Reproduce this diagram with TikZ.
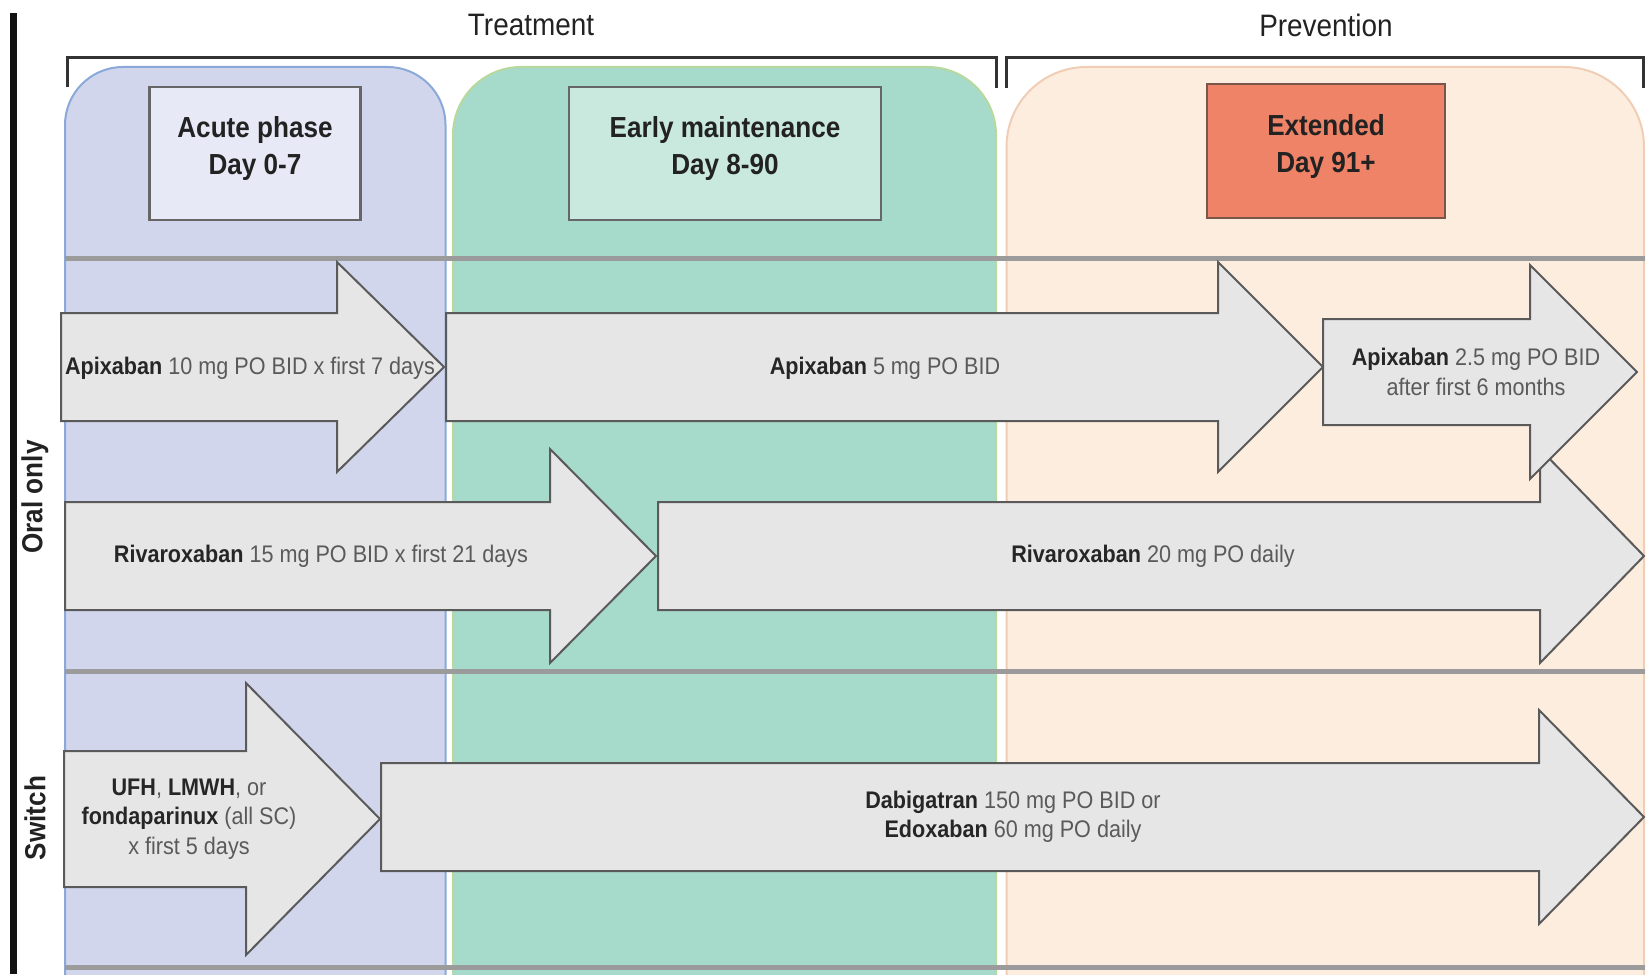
\documentclass[tikz,border=0pt]{standalone}
\usepackage{fontspec}
\setmainfont{Liberation Sans}[FakeStretch=0.9]
\definecolor{bluecol}{HTML}{D1D6EC}
\definecolor{blueedge}{HTML}{8AA9D8}
\definecolor{greencol}{HTML}{A6DACB}
\definecolor{greenedge}{HTML}{B8D99E}
\definecolor{peachcol}{HTML}{FDEDDE}
\definecolor{peachedge}{HTML}{F0CDB5}
\definecolor{acutefill}{HTML}{E7E9F6}
\definecolor{earlyfill}{HTML}{C9E9DE}
\definecolor{extfill}{HTML}{EE8367}
\definecolor{extedge}{HTML}{7A564A}
\definecolor{arrowfill}{HTML}{E6E6E6}
\definecolor{arrowedge}{HTML}{5A5A5A}
\definecolor{sepline}{HTML}{9B9B9B}
\definecolor{boldtext}{HTML}{262626}
\definecolor{regtext}{HTML}{5A5A5A}
\definecolor{headtext}{HTML}{222222}
\newcommand{\smallfnt}{\fontsize{24}{29.5}\selectfont}
\newcommand{\headfnt}{\fontsize{29}{37}\selectfont\bfseries}
\newcommand{\drug}[1]{{\bfseries\color{boldtext}#1}}
\newcommand{\fatarrow}[6]{\filldraw[arrowbox] (#1,{#4-#5}) -- (#2,{#4-#5}) -- (#2,{#4-#6}) -- (#3,#4) -- (#2,{#4+#6}) -- (#2,{#4+#5}) -- (#1,{#4+#5}) -- cycle;}
\begin{document}
\begin{tikzpicture}[x=1pt,y=-1pt,
  arrowbox/.style={fill=arrowfill,draw=arrowedge,line width=2pt,line join=miter},
  armtext/.style={font=\smallfnt,text=regtext,align=center,inner sep=0pt},
  phasebox/.style={draw=black!60,line width=2.5pt,inner sep=0pt},
  phasetext/.style={font=\headfnt,text=headtext,align=center,inner sep=0pt},
  grouptext/.style={font=\fontsize{31}{36}\selectfont,text=headtext,inner sep=0pt},
  rowtext/.style={font=\headfnt,text=headtext,inner sep=0pt,rotate=90},
  bracket/.style={draw=black!80,line width=3pt},
  sep/.style={draw=sepline,line width=5pt}]
\useasboundingbox (0,0) rectangle (1648,974);
% left bar
\fill[black!93] (10,13) rectangle (17,974);
% group labels and brackets
\node[grouptext] (treat) at (531,25) {Treatment};
\node[grouptext] (prev) at (1326,25) {Prevention};
\draw[bracket] (67,87) -- (67,58) -- (996,58) -- (996,88);
\draw[bracket] (1006.5,88) -- (1006.5,58) -- (1643,58) -- (1643,88);
% columns
\fill[bluecol,rounded corners=58pt] (65,976) -- (65,67) -- (445.5,67) -- (445.5,976);
\draw[blueedge,line width=2pt,rounded corners=58pt] (65,976) -- (65,67) -- (445.5,67) -- (445.5,976);
\fill[greencol,rounded corners=68pt] (453,976) -- (453,67) -- (996,67) -- (996,976);
\draw[greenedge,line width=2pt,rounded corners=68pt] (453,976) -- (453,67) -- (996,67) -- (996,976);
\fill[peachcol,rounded corners=80pt] (1006.5,976) -- (1006.5,67) -- (1644,67) -- (1644,976);
\draw[peachedge,line width=2pt,rounded corners=80pt] (1006.5,976) -- (1006.5,67) -- (1644,67) -- (1644,976);
% phase boxes
\node[phasebox,fill=acutefill,minimum width=211pt,minimum height=133pt] (acutebox) at (255,153.5) {};
\node[phasetext] (acute) at (255,149) {Acute phase\\Day 0-7};
\node[phasebox,fill=earlyfill,minimum width=312pt,minimum height=133pt] (earlybox) at (725,153.5) {};
\node[phasetext] (early) at (725,149) {Early maintenance\\Day 8-90};
\node[phasebox,fill=extfill,draw=extedge,minimum width=238pt,minimum height=134pt] (extbox) at (1326,151) {};
\node[phasetext] (ext) at (1326,147) {Extended\\Day 91+};
% separators
\draw[sep] (65,258) -- (1645,258);
\draw[sep] (65,671) -- (1645,671);
\draw[sep] (65,967) -- (1645,967);
% row labels
\node[rowtext] (oral) at (35,497) {Oral only};
\node[rowtext] (switch) at (35,818) {Switch};
% arrows row 1
\fatarrow{61}{337}{444}{367}{54}{105}
\fatarrow{446}{1218}{1323}{367}{54}{105}
% arrows row 2
\fatarrow{65}{550}{656}{556}{54}{107}
\fatarrow{658}{1540}{1644}{556}{54}{107}
\fatarrow{1323}{1530}{1637}{372}{53}{107}
% arrows row 3
\fatarrow{64}{246}{380}{819}{68}{136}
\fatarrow{381}{1539}{1644}{817}{54}{107}
% arrow texts
\node[armtext] (apx10) at (250,368) {\drug{Apixaban} 10 mg PO BID x first 7 days};
\node[armtext] (apx5) at (885,368) {\drug{Apixaban} 5 mg PO BID};
\node[armtext] (apx25) at (1476,372) {\drug{Apixaban} 2.5 mg PO BID\\after first 6 months};
\node[armtext] (riv15) at (321,556) {\drug{Rivaroxaban} 15 mg PO BID x first 21 days};
\node[armtext] (riv20) at (1153,556) {\drug{Rivaroxaban} 20 mg PO daily};
\node[armtext] (ufh) at (189,819) {\drug{UFH}, \drug{LMWH}, or\\\drug{fondaparinux} (all SC)\\x first 5 days};
\node[armtext] (dabi) at (1013,817) {\drug{Dabigatran} 150 mg PO BID or\\\drug{Edoxaban} 60 mg PO daily};
\end{tikzpicture}
\end{document}
